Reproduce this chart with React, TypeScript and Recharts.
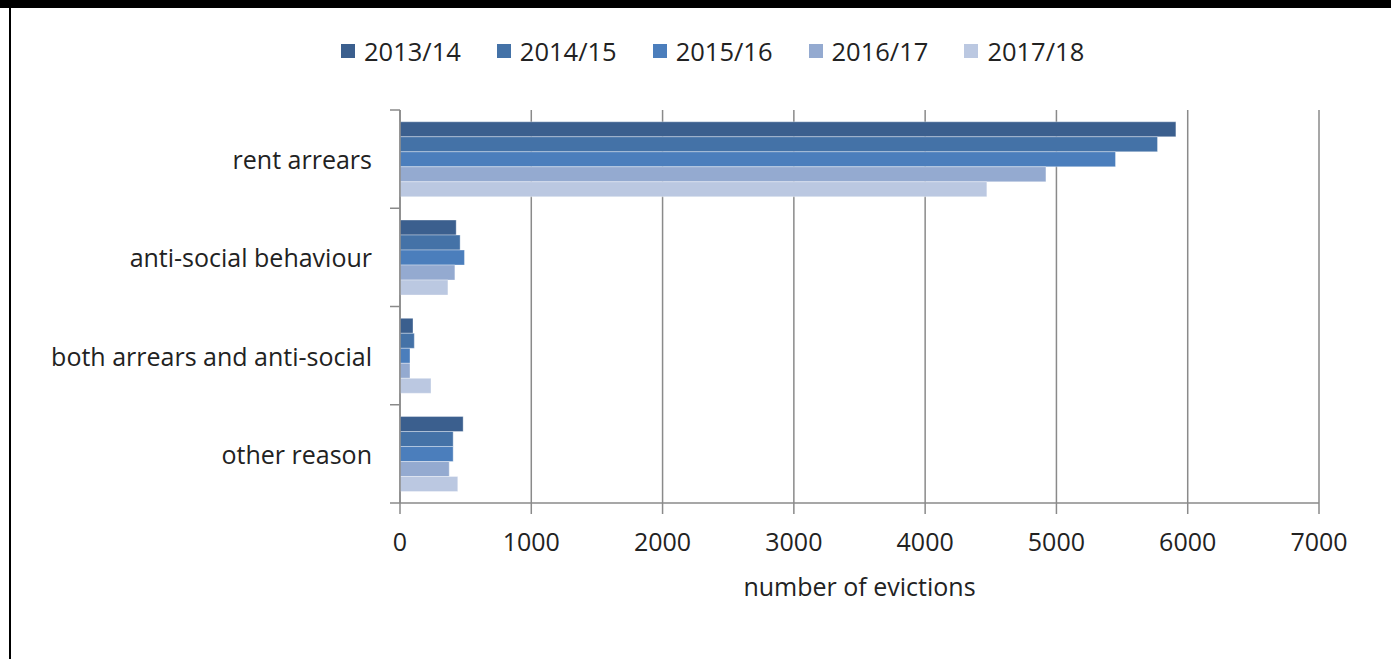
import React from "react";
import { BarChart, Bar, XAxis, YAxis, CartesianGrid, Legend } from "recharts";

// reasons for eviction, top to bottom
const reasons = ["rent arrears", "anti-social behaviour", "both arrears and anti-social", "other reason"];
const years = ["2013/14", "2014/15", "2015/16", "2016/17", "2017/18"];

// number of evictions per reason, one array per year
const evictions1314 = [5910, 428, 99, 481];
const evictions1415 = [5770, 458, 109, 405];
const evictions1516 = [5450, 491, 76, 405];
const evictions1617 = [4920, 418, 76, 375];
const evictions1718 = [4470, 365, 236, 440];

const xTicks = [0, 1000, 2000, 3000, 4000, 5000, 6000, 7000];
const colors = ["#3B5F8E", "#4472A7", "#4B7EBC", "#94AAD0", "#BBC8E1"];

const series = [evictions1314, evictions1415, evictions1516, evictions1617, evictions1718];
const data = reasons.map((reason, i) => {
  const row: Record<string, string | number> = { reason };
  years.forEach((y, s) => {
    row[y] = series[s][i];
  });
  return row;
});

const TEXT = "#222";
const GRID = "#8a8a8a";
const Y_TICK_SIZE = 10;
const Y_TICK_MARGIN = 18;

function CategoryTick(props: any) {
  const { x, y, payload, index } = props;
  const axisX = x + Y_TICK_SIZE + Y_TICK_MARGIN;
  const half = payload?.offset ?? 0;
  const isLast = index === reasons.length - 1;
  return (
    <g>
      <line x1={axisX - Y_TICK_SIZE} x2={axisX} y1={y - half} y2={y - half} stroke={GRID} strokeWidth={1.5} />
      {isLast && (
        <line x1={axisX - Y_TICK_SIZE} x2={axisX} y1={y + half} y2={y + half} stroke={GRID} strokeWidth={1.5} />
      )}
      <text x={x} y={y} textAnchor="end" dominantBaseline="central" fill={TEXT} fontSize={25}>
        {payload.value}
      </text>
    </g>
  );
}

function LegendContent(props: any) {
  const items = props.payload || [];
  return (
    <div style={{ height: 30, display: "flex", alignItems: "center", paddingLeft: 341 }}>
      {items.map((item: any) => (
        <div key={item.value} style={{ display: "flex", alignItems: "center", marginRight: 36 }}>
          <span style={{ width: 14, height: 14, background: item.color, display: "inline-block", marginRight: 9 }} />
          <span style={{ fontSize: 25.5, color: TEXT, lineHeight: "30px" }}>{item.value}</span>
        </div>
      ))}
    </div>
  );
}

export default function App() {
  return (
    <div
      style={{
        position: "absolute",
        left: 0,
        top: 0,
        width: 1391,
        height: 659,
        background: "#fff",
        fontFamily: "'Open Sans', sans-serif",
        overflow: "hidden",
      }}
    >
      <div style={{ position: "absolute", left: 0, top: 0, width: 1391, height: 8, background: "#000" }} />
      <div style={{ position: "absolute", left: 9, top: 8, width: 2, height: 651, background: "#000" }} />
      <BarChart
        width={1391}
        height={659}
        data={data}
        layout="vertical"
        margin={{ top: 80, right: 72, bottom: 96, left: 0 }}
        barCategoryGap="12%"
        barGap={0}
      >
        <CartesianGrid horizontal={false} stroke={GRID} strokeWidth={1.5} />
        <XAxis
          type="number"
          domain={[0, 7000]}
          ticks={xTicks}
          interval={0}
          height={60}
          stroke={GRID}
          strokeWidth={1.5}
          tickSize={11}
          tickMargin={19}
          tick={{ fill: TEXT, fontSize: 25 }}
          label={{ value: "number of evictions", position: "bottom", offset: 15, fill: TEXT, fontSize: 25 }}
        />
        <YAxis
          type="category"
          dataKey="reason"
          width={400}
          stroke={GRID}
          strokeWidth={1.5}
          tickLine={false}
          tickSize={Y_TICK_SIZE}
          tickMargin={Y_TICK_MARGIN}
          interval={0}
          tick={<CategoryTick />}
        />
        <Legend
          verticalAlign="top"
          content={<LegendContent />}
          wrapperStyle={{ top: 36, left: 0, width: 1391, height: 30 }}
        />
        {years.map((year, i) => (
          <Bar
            key={year}
            dataKey={year}
            fill={colors[i]}
            stroke="rgba(255,255,255,0.35)"
            strokeWidth={1}
            isAnimationActive={false}
          />
        ))}
      </BarChart>
    </div>
  );
}
